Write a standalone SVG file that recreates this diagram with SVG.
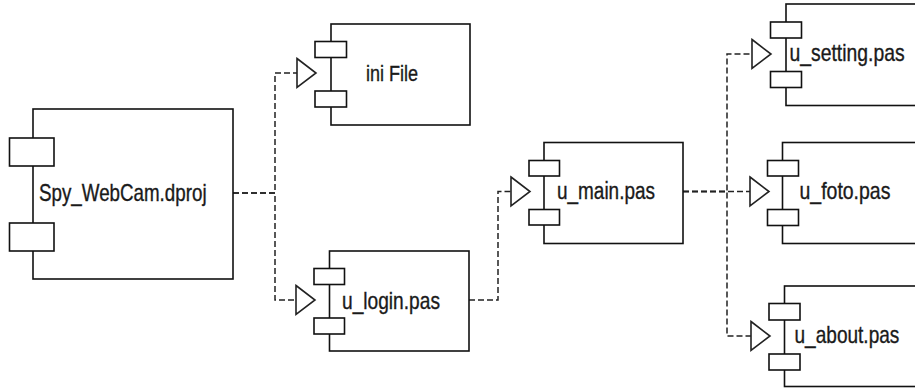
<svg xmlns="http://www.w3.org/2000/svg" width="915" height="389" viewBox="0 0 915 389">
  <defs>
    <style>
      .body { fill: #ffffff; stroke: #111111; stroke-width: 1.6; }
      .port { fill: #ffffff; stroke: #111111; stroke-width: 1.6; }
      .label { font-family: "Liberation Sans", Arial, sans-serif; font-size: 23px; fill: #1a1a1a; stroke: #1a1a1a; stroke-width: 0.35; }
      .dep { fill: none; stroke: #222222; stroke-width: 1.5; stroke-dasharray: 6 3; marker-end: url(#hollow); }
    </style>
    <!-- hollow triangle head for dependency links -->
    <marker id="hollow" markerUnits="userSpaceOnUse" markerWidth="24" markerHeight="34" viewBox="-2 -16 24 32" refX="19" refY="0" orient="auto">
      <path d="M0,-14.5 L19,0 L0,14.5 Z" fill="#ffffff" stroke="#222222" stroke-width="1.6"/>
    </marker>
  </defs>

  <rect width="915" height="389" fill="#ffffff"/>

  <!-- dependency links -->
  <g id="connectors">
    <path class="dep" d="M233,193 H275 V73 H316"/>
    <path class="dep" d="M233,193 H275 V300 H315"/>
    <path class="dep" d="M469,300 H498 V191.5 H530"/>
    <path class="dep" d="M683,191.5 H727 V54 H771"/>
    <path class="dep" d="M683,191.5 H769"/>
    <path class="dep" d="M683,191.5 H727 V336 H770"/>
  </g>

  <!-- labels are squeezed horizontally to a narrow face -->
  <g id="spy_webcam">
    <rect class="body" x="33" y="109" width="200" height="170"/>
    <rect class="port" x="9.5" y="138" width="44.5" height="28"/>
    <rect class="port" x="9.5" y="223" width="44.5" height="28"/>
    <text class="label" transform="translate(39,201) scale(0.816,1)">Spy_WebCam.dproj</text>
  </g>

  <g id="ini_file">
    <rect class="body" x="331" y="24" width="139" height="101"/>
    <rect class="port" x="315" y="41.5" width="31.5" height="16"/>
    <rect class="port" x="315" y="91" width="31.5" height="16"/>
    <text class="label" transform="translate(366,81) scale(0.82,1)" style="font-size:22px">ini File</text>
  </g>

  <g id="u_login">
    <rect class="body" x="329.5" y="251" width="139.5" height="100"/>
    <rect class="port" x="314" y="268.5" width="30.5" height="16"/>
    <rect class="port" x="314" y="318" width="30.5" height="16"/>
    <text class="label" transform="translate(342,309) scale(0.833,1)">u_login.pas</text>
  </g>

  <g id="u_main">
    <rect class="body" x="544" y="142.5" width="139" height="101"/>
    <rect class="port" x="529" y="160.5" width="30.5" height="15.5"/>
    <rect class="port" x="529" y="209.5" width="30.5" height="15.5"/>
    <text class="label" transform="translate(557,198.5) scale(0.824,1)">u_main.pas</text>
  </g>

  <g id="u_setting">
    <rect class="body" x="786" y="4" width="160" height="101.5"/>
    <rect class="port" x="770.5" y="22" width="31" height="16"/>
    <rect class="port" x="770.5" y="71.5" width="31" height="16"/>
    <text class="label" transform="translate(789.5,61) scale(0.841,1)">u_setting.pas</text>
  </g>

  <g id="u_foto">
    <rect class="body" x="782.5" y="142.5" width="160" height="101"/>
    <rect class="port" x="767.5" y="160.5" width="31" height="15.5"/>
    <rect class="port" x="767.5" y="209.5" width="31" height="16"/>
    <text class="label" transform="translate(799.5,199) scale(0.847,1)">u_foto.pas</text>
  </g>

  <g id="u_about">
    <rect class="body" x="784.5" y="286" width="160" height="100.5"/>
    <rect class="port" x="769" y="303.5" width="31" height="16.5"/>
    <rect class="port" x="769" y="354" width="31" height="16"/>
    <text class="label" transform="translate(794.5,343) scale(0.829,1)">u_about.pas</text>
  </g>
</svg>
